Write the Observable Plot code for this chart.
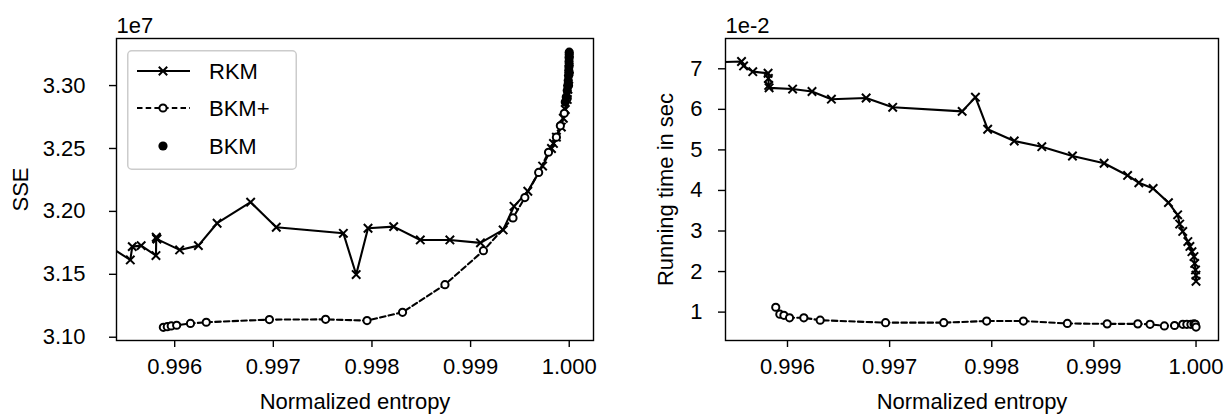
<!DOCTYPE html>
<html>
<head>
<meta charset="utf-8">
<script src="https://cdn.jsdelivr.net/npm/d3@7"></script>
<script src="https://cdn.jsdelivr.net/npm/@observablehq/plot@0.6"></script>
<style>
  html, body { margin: 0; padding: 0; background: #fff; }
  #fig { position: relative; width: 1228px; height: 416px; display: flex; background: #fff;
         font-family: "Liberation Sans", Arial, sans-serif; }
  #fig svg { display: block; }
</style>
</head>
<body>
<div id="fig"></div>
<script>
// ---- data (SSE in units of 1e7, running time in units of 1e-2 s) ----
const rkmEntropy = [0.99500, 0.99555, 0.99557, 0.99566, 0.99581, 0.995813, 0.995816, 0.99582,
  0.99605, 0.99624, 0.99643, 0.99677, 0.99703, 0.99771, 0.99784, 0.99796, 0.99822, 0.99849,
  0.99879, 0.99910, 0.99933, 0.99944, 0.99958, 0.99973, 0.99982, 0.99984, 0.99987, 0.99992,
  0.99994, 0.99996, 0.99998, 0.999987, 0.999995, 0.999999, 1.0];
const rkmSSE = [3.189, 3.1614, 3.1720, 3.1728, 3.1649, 3.1795, 3.1785, 3.1780,
  3.1694, 3.1728, 3.1906, 3.2073, 3.1874, 3.1826, 3.1498, 3.1866, 3.1879, 3.1773,
  3.1773, 3.1750, 3.1853, 3.2040, 3.216, 3.236, 3.250, 3.254, 3.259, 3.267,
  3.274, 3.281, 3.289, 3.297, 3.305, 3.313, 3.320];
const rkmTime = [7.14, 7.18, 7.07, 6.93, 6.89, 6.76, 6.59, 6.53,
  6.50, 6.44, 6.25, 6.28, 6.05, 5.95, 6.30, 5.51, 5.22, 5.08,
  4.85, 4.67, 4.37, 4.19, 4.05, 3.70, 3.40, 3.17, 2.99, 2.74,
  2.62, 2.49, 2.37, 2.20, 2.04, 1.91, 1.76];

const bkmPlusEntropy = [0.995885, 0.995925, 0.995965, 0.99602, 0.99616, 0.99632, 0.99696, 0.99753,
  0.99795, 0.99831, 0.99874, 0.99913, 0.99943, 0.99955, 0.99969, 0.99979, 0.99987, 0.99991,
  0.99995, 0.99998, 0.999993, 1.0];
const bkmPlusSSE = [3.1079, 3.1084, 3.1090, 3.1095, 3.1110, 3.1119, 3.1140, 3.1142,
  3.1132, 3.1198, 3.1418, 3.1688, 3.1948, 3.211, 3.231, 3.247, 3.259, 3.268,
  3.278, 3.290, 3.300, 3.310];
const bkmPlusTime = [1.12, 0.95, 0.92, 0.86, 0.86, 0.80, 0.74, 0.74,
  0.78, 0.78, 0.72, 0.71, 0.71, 0.70, 0.66, 0.67, 0.70, 0.70,
  0.70, 0.71, 0.70, 0.63];

const bkmEntropy = [0.99996, 0.99997, 0.99998, 0.999985, 0.99999, 0.999993, 0.999995, 0.999997,
  0.999998, 0.999999, 1.0, 1.0];
const bkmSSE = [3.287, 3.291, 3.296, 3.300, 3.304, 3.308, 3.312, 3.315,
  3.319, 3.322, 3.3245, 3.3265];

const seriesNames = ["RKM", "BKM+", "BKM"];
const xTicks = [0.996, 0.997, 0.998, 0.999, 1.000];
const sseTicks = [3.10, 3.15, 3.20, 3.25, 3.30];
const timeTicks = [1, 2, 3, 4, 5, 6, 7];
const xLabel = "Normalized entropy";
const sseLabel = "SSE";
const timeLabel = "Running time in sec";
const sseExponent = "1e7";
const timeExponent = "1e-2";

// ---- build tables ----
const rows = (xs, ys) => xs.map((x, i) => ({x, y: ys[i]}));
const rkmL = rows(rkmEntropy, rkmSSE);
const rkmR = rows(rkmEntropy, rkmTime);
const bkmpL = rows(bkmPlusEntropy, bkmPlusSSE);
const bkmpR = rows(bkmPlusEntropy, bkmPlusTime);
const bkmL = rows(bkmEntropy, bkmSSE);

const FONT = "'Liberation Sans', Arial, sans-serif";
const style = {fontFamily: FONT, fontSize: "22px", color: "black", background: "white", overflow: "visible"};

const LW = 2.1;      // line width
const MW = 2.0;      // marker edge width
const DASH = "5.5,3.2";

function seriesMarks(rkm, bkmp, bkm) {
  const m = [
    Plot.line(rkm, {x: "x", y: "y", stroke: "black", strokeWidth: LW, clip: true}),
    Plot.dot(rkm, {x: "x", y: "y", symbol: "times", r: 3.9, stroke: "black", strokeWidth: MW, clip: true}),
    Plot.line(bkmp, {x: "x", y: "y", stroke: "black", strokeWidth: LW, strokeDasharray: DASH, clip: true}),
    Plot.dot(bkmp, {x: "x", y: "y", r: 3.6, fill: "white", stroke: "black", strokeWidth: MW, clip: true})
  ];
  if (bkm) m.push(Plot.dot(bkm, {x: "x", y: "y", r: 4.6, fill: "black", stroke: "none", clip: true}));
  return m;
}

const left = Plot.plot({
  width: 614, height: 416,
  marginLeft: 116, marginRight: 21, marginTop: 38, marginBottom: 76,
  style,
  x: {domain: [0.99541, 1.000246]},
  y: {domain: [3.0974, 3.3374]},
  marks: [
    ...seriesMarks(rkmL, bkmpL, bkmL),
    Plot.frame({stroke: "black", strokeWidth: 1.4}),
    Plot.axisX({ticks: xTicks, tickFormat: d3.format(".3f"), tickSize: 7, tickPadding: 11, strokeWidth: 1.4,
      label: xLabel, labelAnchor: "center", labelOffset: 68, labelArrow: "none"}),
    Plot.axisY({ticks: sseTicks, tickFormat: d3.format(".2f"), tickSize: 7, tickPadding: 24, strokeWidth: 1.4,
      label: sseLabel, labelAnchor: "center", labelOffset: 104, labelArrow: "none"}),
    Plot.text([sseExponent], {text: d => d, frameAnchor: "top-left", textAnchor: "start", lineAnchor: "bottom", dy: -6})
  ]
});

const right = Plot.plot({
  width: 614, height: 416,
  marginLeft: 111, marginRight: 10, marginTop: 38, marginBottom: 76,
  style,
  x: {domain: [0.995393, 1.00022]},
  y: {domain: [0.30, 7.747]},
  marks: [
    ...seriesMarks(rkmR, bkmpR, null),
    Plot.frame({stroke: "black", strokeWidth: 1.4}),
    Plot.axisX({ticks: xTicks, tickFormat: d3.format(".3f"), tickSize: 7, tickPadding: 11, strokeWidth: 1.4,
      label: xLabel, labelAnchor: "center", labelOffset: 68, labelArrow: "none"}),
    Plot.axisY({ticks: timeTicks, tickFormat: d3.format("d"), tickSize: 7, tickPadding: 16, strokeWidth: 1.4,
      label: timeLabel, labelAnchor: "center", labelOffset: 68, labelArrow: "none"}),
    Plot.text([timeExponent], {text: d => d, frameAnchor: "top-left", textAnchor: "start", lineAnchor: "bottom", dy: -6})
  ]
});

const fig = document.getElementById("fig");
fig.appendChild(left);
fig.appendChild(right);

// ---- legend overlay (inside left axes, upper left) ----
const legend = d3.select(fig).append("svg")
  .attr("width", 171).attr("height", 121)
  .style("position", "absolute").style("left", "127px").style("top", "50px")
  .style("font-family", FONT).style("font-size", "22px");
legend.append("rect").attr("x", 0.75).attr("y", 0.75).attr("width", 168.5).attr("height", 118.5)
  .attr("rx", 4).attr("fill", "white").attr("fill-opacity", 0.8)
  .attr("stroke", "#cccccc").attr("stroke-width", 1.5);
const rowY = [21, 58, 96];
seriesNames.forEach((name, i) => {
  const g = legend.append("g").attr("transform", `translate(0,${rowY[i]})`);
  if (i === 0) {
    g.append("line").attr("x1", 10).attr("x2", 63).attr("stroke", "black").attr("stroke-width", LW);
    g.append("path").attr("transform", "translate(36,0)")
      .attr("d", d3.symbol(d3.symbolTimes, Math.PI * 3.9 * 3.9)())
      .attr("fill", "none").attr("stroke", "black").attr("stroke-width", MW);
  } else if (i === 1) {
    g.append("line").attr("x1", 10).attr("x2", 63).attr("stroke", "black").attr("stroke-width", LW)
      .attr("stroke-dasharray", DASH);
    g.append("circle").attr("cx", 36).attr("r", 3.6).attr("fill", "white").attr("stroke", "black").attr("stroke-width", MW);
  } else {
    g.append("circle").attr("cx", 36).attr("r", 4.6).attr("fill", "black");
  }
  g.append("text").attr("x", 82).attr("dy", "0.35em").attr("fill", "black").text(name);
});
</script>
</body>
</html>
